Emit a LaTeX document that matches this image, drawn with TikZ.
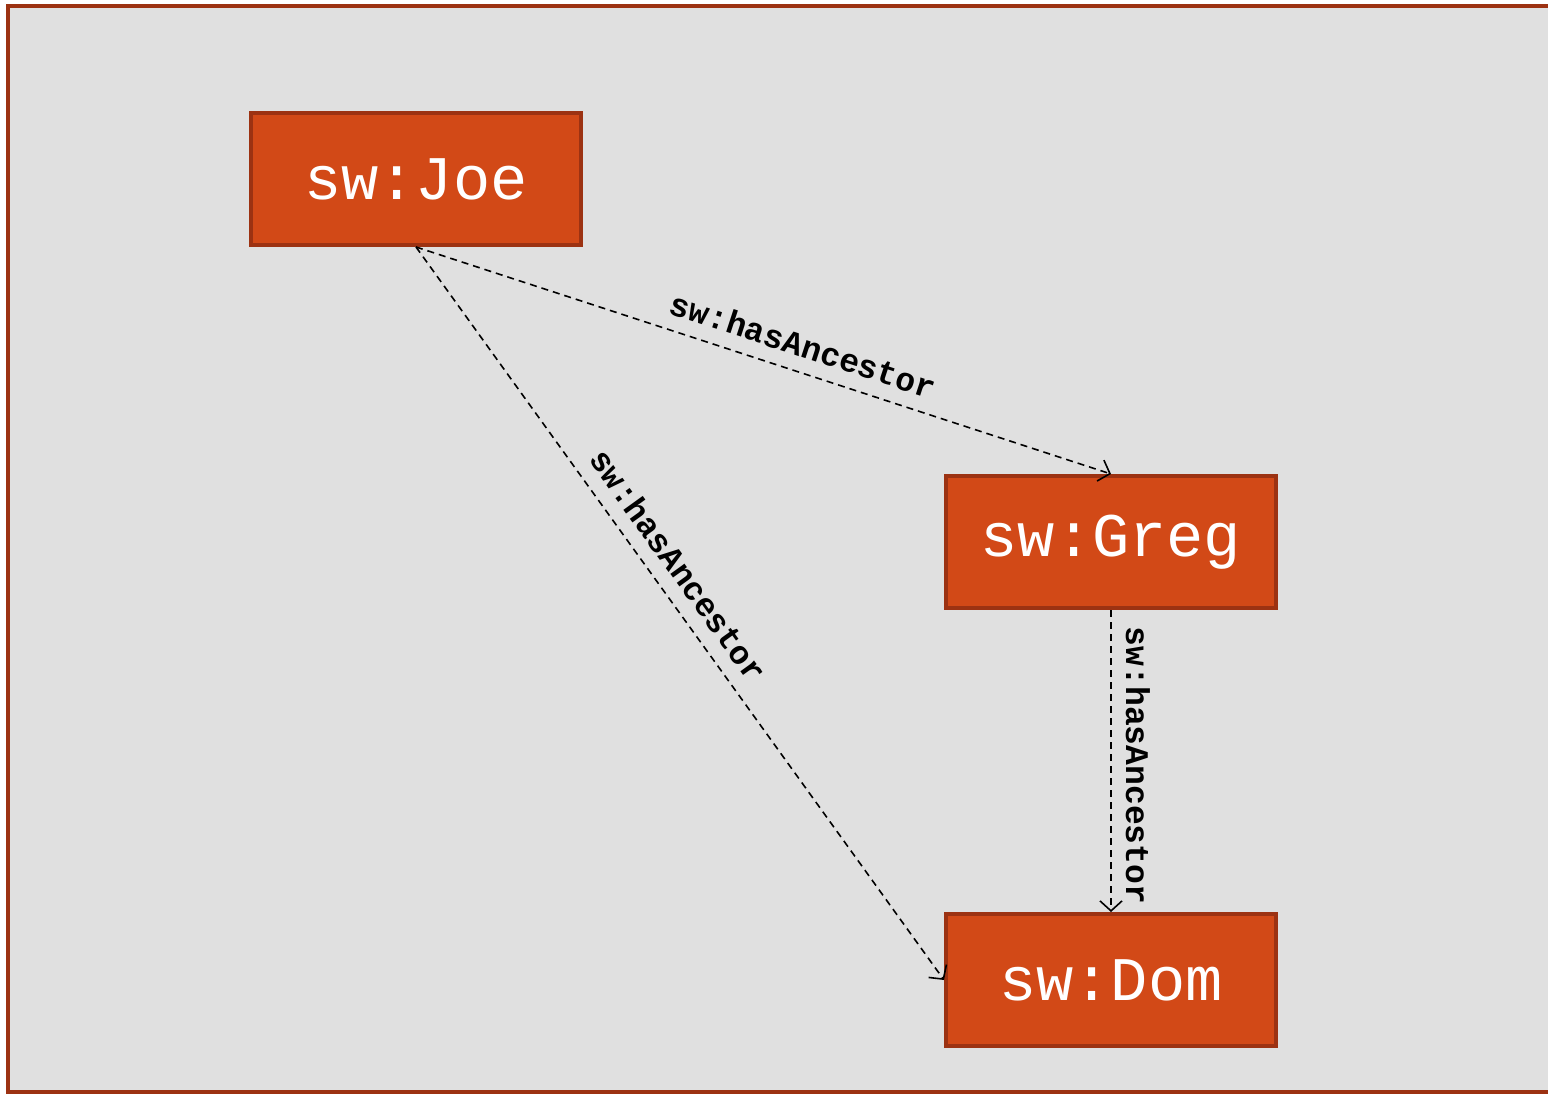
\documentclass[tikz,border=0pt]{standalone}
\usepackage{fontspec}
\setmonofont{Liberation Mono}
\usetikzlibrary{arrows.meta}
\definecolor{pagebg}{HTML}{E0E0E0}
\definecolor{rust}{HTML}{9C3212}
\definecolor{boxfill}{HTML}{D24917}
\tikzset{
  resource/.style={draw=rust, line width=4pt, fill=boxfill, text=white,
    minimum width=330pt, minimum height=132pt, inner sep=0pt,
    font=\fontsize{62}{62}\selectfont\ttfamily},
  relation/.style={line width=1.6pt, dash pattern=on 7pt off 5pt,
    -{Straight Barb[length=10pt,width=22pt,line width=1.6pt]}},
  rellabel/.style={sloped, above=11pt, inner sep=3pt,
    font=\fontsize{33}{33}\selectfont\ttfamily\bfseries}
}
\begin{document}
\begin{tikzpicture}[x=1pt,y=-1pt]
  \useasboundingbox (0,0) rectangle (1548,1094);
  \begin{scope}
    \clip (0,0) rectangle (1548,1094);
    \draw[rust, line width=4pt, fill=pagebg] (8,6) rectangle (1556,1092);
  \end{scope}

  \node[resource] (joe)  at (416,179) {sw:Joe};
  \node[resource] (greg) at (1111,542) {sw:Greg};
  \node[resource] (dom)  at (1111,980) {sw:Dom};

  \draw[relation] (joe.south) -- node[rellabel, pos=0.545] {sw:hasAncestor} (greg.north);
  \draw[relation] (joe.south) -- node[rellabel, pos=0.456] {sw:hasAncestor} (dom.west);
  \draw[relation] (greg.south) -- node[rellabel, pos=0.515] {sw:hasAncestor} (dom.north);
\end{tikzpicture}
\end{document}
